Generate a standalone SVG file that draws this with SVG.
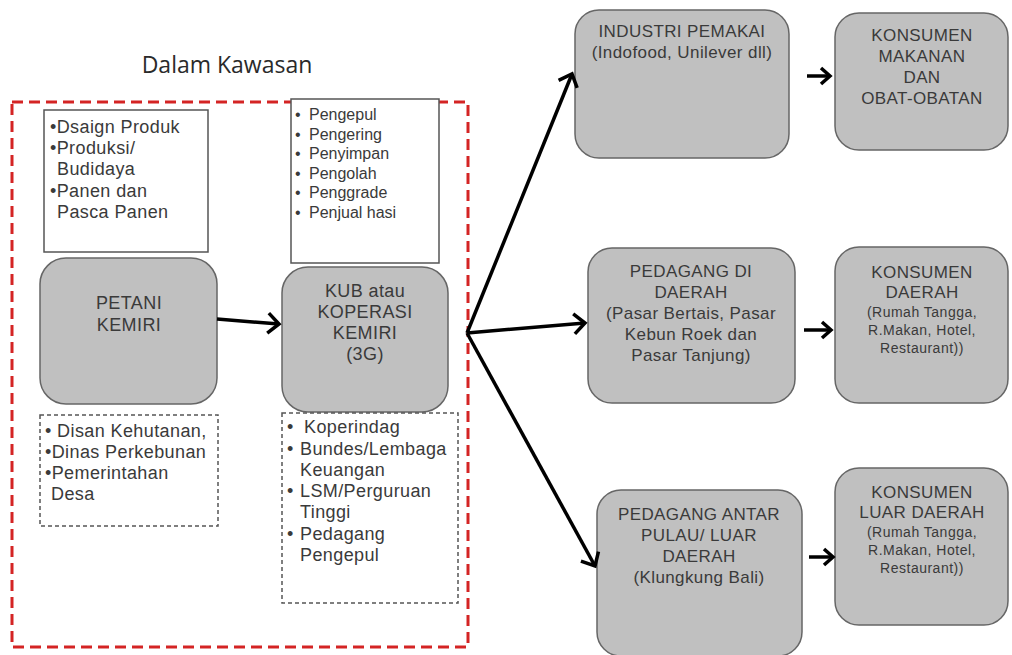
<svg xmlns="http://www.w3.org/2000/svg" width="1012" height="655" viewBox="0 0 1012 655">
<defs>
<style>
text{font-family:"Liberation Sans",Arial,sans-serif;fill:#3a3a3a;}
.title{font-family:"Open Sans","Liberation Sans",sans-serif;font-size:23px;fill:#2a2a2a;}
.node{fill:#c0c0c0;stroke:#666666;stroke-width:1.5;}
.wbox{fill:#ffffff;stroke:#555555;stroke-width:1.5;}
.dbox{fill:#ffffff;stroke:#555555;stroke-width:1.5;stroke-dasharray:4 3;}
.zone{fill:none;stroke:#d42424;stroke-width:3;stroke-dasharray:11 6;}
.c{text-anchor:middle;}
.t18{font-size:18px;letter-spacing:0.4px;}
.t17{font-size:17px;letter-spacing:0.4px;}
.t16{font-size:16px;}
.t14{font-size:14px;letter-spacing:0.5px;}
.con{fill:none;stroke:#000000;stroke-width:3.5;}
</style>
<marker id="chev" markerUnits="userSpaceOnUse" viewBox="-4 -4 20 28" markerWidth="20" markerHeight="28" refX="11" refY="10" orient="auto">
<path d="M0,0 L11,10 L0,20" fill="none" stroke="#000" stroke-width="3.5"/>
</marker>
<marker id="chevS" markerUnits="userSpaceOnUse" viewBox="-4 -4 18 24" markerWidth="18" markerHeight="24" refX="9" refY="8" orient="auto">
<path d="M0,0 L9,8 L0,16" fill="none" stroke="#000" stroke-width="3.5"/>
</marker>
</defs>
<rect width="1012" height="655" fill="#ffffff"/>
<g id="zone">
<text class="title" x="227" y="73" text-anchor="middle">Dalam Kawasan</text>
<rect class="zone" x="12" y="102" width="456" height="545"/>
</g>
<g id="box-produk">
<rect class="wbox" x="44" y="110" width="164" height="142"/>
<text class="t18" x="50" y="133">•Dsaign Produk</text>
<text class="t18" x="50" y="154">•Produksi/</text>
<text class="t18" x="57" y="175">Budidaya</text>
<text class="t18" x="50" y="197">•Panen dan</text>
<text class="t18" x="57" y="218">Pasca Panen</text>
</g>
<g id="box-pengepul">
<rect class="wbox" x="291" y="99" width="148" height="164"/>
<text class="t16" x="295" y="120">•</text><text class="t16" x="309" y="120">Pengepul</text>
<text class="t16" x="295" y="140">•</text><text class="t16" x="309" y="140">Pengering</text>
<text class="t16" x="295" y="159">•</text><text class="t16" x="309" y="159">Penyimpan</text>
<text class="t16" x="295" y="179">•</text><text class="t16" x="309" y="179">Pengolah</text>
<text class="t16" x="295" y="198">•</text><text class="t16" x="309" y="198">Penggrade</text>
<text class="t16" x="295" y="218">•</text><text class="t16" x="309" y="218">Penjual hasi</text>
</g>
<g id="petani">
<rect class="node" x="40" y="258" width="177" height="146" rx="26"/>
<text class="t18 c" x="129" y="309">PETANI</text>
<text class="t18 c" x="129" y="331">KEMIRI</text>
</g>
<g id="kub">
<rect class="node" x="282" y="267" width="166" height="145" rx="26"/>
<text class="t18 c" x="365" y="297">KUB atau</text>
<text class="t18 c" x="365" y="318">KOPERASI</text>
<text class="t18 c" x="365" y="339">KEMIRI</text>
<text class="t18 c" x="365" y="360">(3G)</text>
</g>
<g id="box-dinas">
<rect class="dbox" x="40" y="415" width="178" height="111"/>
<text class="t18" x="45" y="437">• Disan Kehutanan,</text>
<text class="t18" x="45" y="458">•Dinas Perkebunan</text>
<text class="t18" x="45" y="479">•Pemerintahan</text>
<text class="t18" x="51" y="500">Desa</text>
</g>
<g id="box-koperindag">
<rect class="dbox" x="282" y="413" width="176" height="190"/>
<text class="t18" x="287" y="433">•</text><text class="t18" x="304" y="433">Koperindag</text>
<text class="t18" x="287" y="455">•</text><text class="t18" x="300" y="455">Bundes/Lembaga</text>
<text class="t18" x="300" y="476">Keuangan</text>
<text class="t18" x="287" y="497">•</text><text class="t18" x="300" y="497">LSM/Perguruan</text>
<text class="t18" x="300" y="518">Tinggi</text>
<text class="t18" x="287" y="540">•</text><text class="t18" x="300" y="540">Pedagang</text>
<text class="t18" x="300" y="561">Pengepul</text>
</g>
<g id="industri">
<rect class="node" x="575" y="10" width="214" height="148" rx="24"/>
<text class="t17 c" x="682" y="37">INDUSTRI PEMAKAI</text>
<text class="t17 c" x="682" y="58">(Indofood, Unilever dll)</text>
</g>
<g id="konsumen-makanan">
<rect class="node" x="835" y="13" width="173" height="137" rx="24"/>
<text class="t17 c" x="922" y="41">KONSUMEN</text>
<text class="t17 c" x="922" y="62">MAKANAN</text>
<text class="t17 c" x="922" y="83">DAN</text>
<text class="t17 c" x="922" y="104">OBAT-OBATAN</text>
</g>
<g id="pedagang-daerah">
<rect class="node" x="588" y="248" width="207" height="155" rx="24"/>
<text class="t17 c" x="691" y="277">PEDAGANG DI</text>
<text class="t17 c" x="691" y="298">DAERAH</text>
<text class="t17 c" x="691" y="319">(Pasar Bertais, Pasar</text>
<text class="t17 c" x="691" y="340">Kebun Roek dan</text>
<text class="t17 c" x="691" y="361">Pasar  Tanjung)</text>
</g>
<g id="konsumen-daerah">
<rect class="node" x="835" y="247" width="173" height="156" rx="24"/>
<text class="t17 c" x="922" y="278">KONSUMEN</text>
<text class="t17 c" x="922" y="298">DAERAH</text>
<text class="t14 c" x="922" y="317">(Rumah Tangga,</text>
<text class="t14 c" x="922" y="335">R.Makan, Hotel,</text>
<text class="t14 c" x="922" y="353">Restaurant))</text>
</g>
<g id="pedagang-antar">
<rect class="node" x="597" y="490" width="205" height="166" rx="24"/>
<text class="t17 c" x="699" y="520">PEDAGANG ANTAR</text>
<text class="t17 c" x="699" y="541">PULAU/ LUAR</text>
<text class="t17 c" x="699" y="562">DAERAH</text>
<text class="t17 c" x="699" y="583">(Klungkung Bali)</text>
</g>
<g id="konsumen-luar">
<rect class="node" x="835" y="468" width="173" height="157" rx="24"/>
<text class="t17 c" x="922" y="498">KONSUMEN</text>
<text class="t17 c" x="922" y="518">LUAR DAERAH</text>
<text class="t14 c" x="922" y="537">(Rumah Tangga,</text>
<text class="t14 c" x="922" y="555">R.Makan, Hotel,</text>
<text class="t14 c" x="922" y="573">Restaurant))</text>
</g>
<g id="connectors">
<path class="con" d="M217,319 L279,324" marker-end="url(#chev)"/>
<path class="con" d="M467,333 L572,74" marker-end="url(#chev)"/>
<path class="con" d="M467,333 L585,323" marker-end="url(#chev)"/>
<path class="con" d="M467,333 L595,566" marker-end="url(#chev)"/>
<path class="con" d="M807,76 L830,76" marker-end="url(#chevS)"/>
<path class="con" d="M804,330 L831,330" marker-end="url(#chevS)"/>
<path class="con" d="M809,557 L833,557" marker-end="url(#chevS)"/>
</g>
</svg>
